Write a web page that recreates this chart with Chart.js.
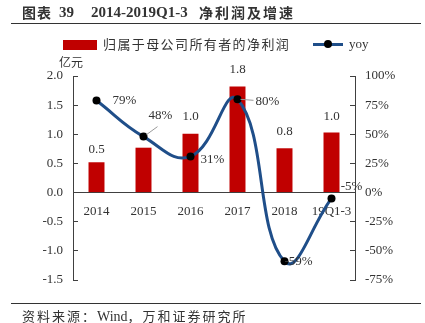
<!DOCTYPE html>
<html>
<head>
<meta charset="utf-8">
<script src="https://cdn.jsdelivr.net/npm/chart.js@4.4.0/dist/chart.umd.min.js"></script>
<style>
    body { margin: 0; background: #fff; }
    #wrap { position: relative; width: 425px; height: 323px; overflow: hidden; color: #333;
            font-family: "Liberation Serif", "Noto Sans CJK SC", serif; }
    canvas { position: absolute; left: 0; top: 0; }
    .abs { position: absolute; white-space: nowrap; }
    .cjk { font-family: "Noto Sans CJK SC", sans-serif; }
</style>
</head>
<body>
<div id="wrap">
    <canvas id="grafica" width="425" height="323"></canvas>

    <!-- titulo -->
    <div class="abs cjk" style="left:22px;top:4px;font-size:14px;font-weight:bold;line-height:16px;letter-spacing:1px;">图表</div>
    <div class="abs" style="left:59px;top:4px;font-size:15px;font-weight:bold;line-height:16px;">39</div>
    <div class="abs" style="left:91px;top:4px;font-size:15px;font-weight:bold;line-height:16px;">2014-2019Q1-3</div>
    <div class="abs cjk" style="left:199px;top:4px;font-size:14px;font-weight:bold;line-height:16px;letter-spacing:2px;">净利润及增速</div>
    <div class="abs" style="left:11px;top:23px;width:410px;height:1px;background:#333;"></div>

    <!-- leyenda -->
    <div class="abs" style="left:63px;top:40px;width:34px;height:10px;background:#C00000;"></div>
    <div class="abs cjk" style="left:103px;top:36px;font-size:13px;line-height:16px;letter-spacing:1.4px;">归属于母公司所有者的净利润</div>
    <div class="abs" style="left:313px;top:43px;width:30px;height:3px;background:#1F4E89;"></div>
    <div class="abs" style="left:324px;top:40px;width:8px;height:8px;border-radius:50%;background:#000;"></div>
    <div class="abs" style="left:349px;top:36px;font-size:13px;line-height:16px;">yoy</div>

    <div class="abs cjk" style="left:59px;top:55px;font-size:12px;line-height:14px;">亿元</div>

    <!-- fuente -->
    <div class="abs" style="left:11px;top:303px;width:410px;height:1px;background:#333;"></div>
    <div class="abs cjk" style="left:22px;top:308px;font-size:13px;line-height:16px;letter-spacing:2px;">资料来源：<span style="font-family:'Liberation Serif';letter-spacing:0;font-size:14px;">Wind</span>，万和证券研究所</div>
</div>

<script>
(() => {

    const categorias = ['2014', '2015', '2016', '2017', '2018', '19Q1-3'];
    const beneficioNeto = [0.52, 0.77, 1.01, 1.82, 0.76, 1.03];
    const crecimiento = [79, 48, 31, 80, -59, -5];
    const ticksIzq = [2.0, 1.5, 1.0, 0.5, 0.0, -0.5, -1.0, -1.5];
    const ticksDer = [100, 75, 50, 25, 0, -25, -50, -75];

    const fuenteSerif = 'Liberation Serif';
    const colorTexto = '#333';
    const colorEje = '#404040';

    // desplazamientos de las etiquetas (estilo, no datos)
    const posBarras = [-13, null, -17, -17, -17, -16];
    const posYoy = [
        { dx: 28, dy: 0 },
        { dx: 17, dy: -21, guia: [[3, -2], [14, -10]] },
        { dx: 22, dy: 3 },
        { dx: 30, dy: 2, guia: [[3, 0], [16, 1]] },
        { dx: 14, dy: 0 },
        { dx: 20, dy: -12 }
    ];

    const etiquetas = {
        id: 'etiquetas',
        afterDatasetsDraw(chart) {
            const ctx = chart.ctx;
            ctx.save();
            ctx.font = `13px "${fuenteSerif}"`;
            ctx.fillStyle = colorTexto;
            ctx.textAlign = 'center';
            ctx.textBaseline = 'middle';

            const barras = chart.getDatasetMeta(1).data;
            barras.forEach((barra, i) => {
                if (posBarras[i] === null) return;
                ctx.fillText(beneficioNeto[i].toFixed(1), barra.x, barra.y + posBarras[i]);
            });

            const puntos = chart.getDatasetMeta(0).data;
            puntos.forEach((p, i) => {
                const o = posYoy[i];
                if (o.guia) {
                    ctx.strokeStyle = '#999';
                    ctx.lineWidth = 1;
                    ctx.beginPath();
                    ctx.moveTo(p.x + o.guia[0][0], p.y + o.guia[0][1]);
                    ctx.lineTo(p.x + o.guia[1][0], p.y + o.guia[1][1]);
                    ctx.stroke();
                }
                ctx.fillText(crecimiento[i] + '%', p.x + o.dx, p.y + o.dy);
            });
            ctx.restore();
        }
    };

    new Chart(document.getElementById('grafica'), {
        data: {
            labels: categorias,
            datasets: [
                {
                    type: 'line',
                    label: 'yoy',
                    data: crecimiento,
                    yAxisID: 'y1',
                    borderColor: '#1F4E89',
                    borderWidth: 3,
                    tension: 0.45,
                    pointRadius: 4,
                    pointBackgroundColor: '#000',
                    pointBorderWidth: 0,
                    order: 1
                },
                {
                    type: 'bar',
                    label: '归属于母公司所有者的净利润',
                    data: beneficioNeto,
                    yAxisID: 'y',
                    backgroundColor: '#C00000',
                    barPercentage: 0.34,
                    categoryPercentage: 1,
                    order: 2
                }
            ]
        },
        options: {
            responsive: false,
            animation: false,
            layout: { padding: { top: 76, bottom: 43, left: 0, right: 0 } },
            plugins: {
                legend: { display: false },
                tooltip: { enabled: false }
            },
            scales: {
                x: {
                    position: { y: 0 },
                    offset: true,
                    grid: { display: false, drawTicks: false },
                    border: { display: true, color: colorEje, width: 1 },
                    ticks: {
                        padding: 11,
                        color: colorTexto,
                        font: { family: fuenteSerif, size: 13 },
                        maxRotation: 0
                    }
                },
                y: {
                    position: 'left',
                    min: -1.5,
                    max: 2.0,
                    afterBuildTicks: (s) => { s.ticks = ticksIzq.map(v => ({ value: v })); },
                    afterFit: (s) => { s.width = 73; },
                    grid: { drawOnChartArea: false, drawTicks: true, tickLength: -5, color: colorEje },
                    border: { display: true, color: colorEje, width: 1 },
                    ticks: {
                        padding: 15,
                        color: colorTexto,
                        font: { family: fuenteSerif, size: 13 },
                        callback: (v) => Number(v).toFixed(1)
                    }
                },
                y1: {
                    position: 'right',
                    min: -75,
                    max: 100,
                    afterBuildTicks: (s) => { s.ticks = ticksDer.map(v => ({ value: v })); },
                    afterFit: (s) => { s.width = 70; },
                    grid: { drawOnChartArea: false, drawTicks: true, tickLength: -5, color: colorEje },
                    border: { display: true, color: colorEje, width: 1 },
                    ticks: {
                        padding: 15,
                        color: colorTexto,
                        font: { family: fuenteSerif, size: 13 },
                        callback: (v) => v + '%'
                    }
                }
            }
        },
        plugins: [etiquetas]
    });

})();
</script>
</body>
</html>
